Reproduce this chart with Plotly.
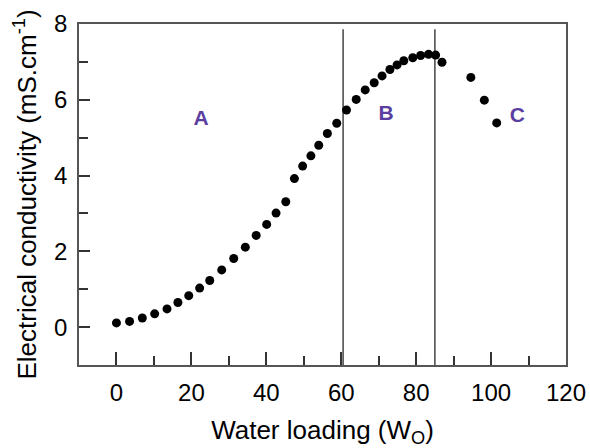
import plotly.graph_objects as go

water_loading = [0, 3.5, 6.9, 10.2, 13.5, 16.4, 19.3, 22.2, 24.9, 28.1, 31.3, 34.4,
                 37.3, 40.1, 42.6, 45.2, 47.5, 49.7, 51.9, 54.0, 56.3, 58.8, 61.4,
                 64.0, 66.4, 68.8, 70.9, 73.0, 74.9, 76.7, 79.1, 81.2, 83.3, 85.2,
                 86.9, 94.6, 98.2, 101.5]
conductivity = [0.11, 0.15, 0.24, 0.35, 0.48, 0.65, 0.83, 1.03, 1.23, 1.51, 1.81, 2.11,
                2.42, 2.71, 3.01, 3.31, 3.92, 4.25, 4.52, 4.80, 5.11, 5.38, 5.73,
                6.01, 6.26, 6.45, 6.63, 6.80, 6.92, 7.03, 7.11, 7.17, 7.20, 7.18,
                6.99, 6.59, 5.99, 5.39]

boundary_x = [60.5, 85]
boundary_y = [-1, 7.86]

region_labels = ["A", "B", "C"]
region_x = [22.6, 72, 107]
region_y = [5.47, 5.6, 5.54]

fig = go.Figure()

for bx in boundary_x:
    fig.add_trace(go.Scatter(x=[bx, bx], y=boundary_y, mode="lines",
                             line=dict(color="#444444", width=1.5),
                             showlegend=False, hoverinfo="skip"))

fig.add_trace(go.Scatter(x=water_loading, y=conductivity, mode="markers",
                         marker=dict(color="black", size=9),
                         showlegend=False))

fig.add_trace(go.Scatter(x=region_x, y=region_y, mode="text", text=region_labels,
                         textfont=dict(family="Liberation Sans, Arial", size=21,
                                       color="#5b3fa0", weight="bold"),
                         showlegend=False, hoverinfo="skip"))

tick_font = dict(family="Liberation Sans, Arial", size=24, color="black")
title_font = dict(family="Liberation Sans, Arial", size=26, color="black")

fig.update_layout(
    width=590, height=448,
    margin=dict(l=79, r=24, t=24, b=83),
    paper_bgcolor="white", plot_bgcolor="white",
    xaxis=dict(range=[-10, 120], tickvals=[0, 20, 40, 60, 80, 100, 120],
               ticks="inside", ticklen=13, tickwidth=1.5, tickcolor="#333333",
               minor=dict(tickvals=[10, 30, 50, 70, 90, 110], ticks="inside",
                          ticklen=9, tickwidth=1.5, tickcolor="#333333"),
               showline=True, linecolor="#555555", linewidth=1.5, mirror=True,
               showgrid=False, zeroline=False, tickfont=tick_font,
               ticklabeloverflow="allow", ticklabelstandoff=5,
               automargin=False,
               title=dict(text="Water loading (W<sub>O</sub>)", font=title_font,
                          standoff=20)),
    yaxis=dict(range=[-1, 8], tickvals=[0, 2, 4, 6, 8],
               ticks="inside", ticklen=11, tickwidth=1.5, tickcolor="#333333",
               minor=dict(tickvals=[-1, 1, 3, 5, 7], ticks="inside",
                          ticklen=9, tickwidth=1.5, tickcolor="#333333"),
               showline=True, linecolor="#555555", linewidth=1.5, mirror=True,
               showgrid=False, zeroline=False, tickfont=tick_font,
               ticklabeloverflow="allow", ticklabelstandoff=5,
               automargin=False,
               title=dict(text="Electrical conductivity (mS.cm<sup>-1</sup>)",
                          font=title_font, standoff=10)),
)

fig.write_html("out.html",
               config={"displayModeBar": False},
               post_script="document.body.style.margin='0';"
                           "document.body.style.overflow='hidden';")
